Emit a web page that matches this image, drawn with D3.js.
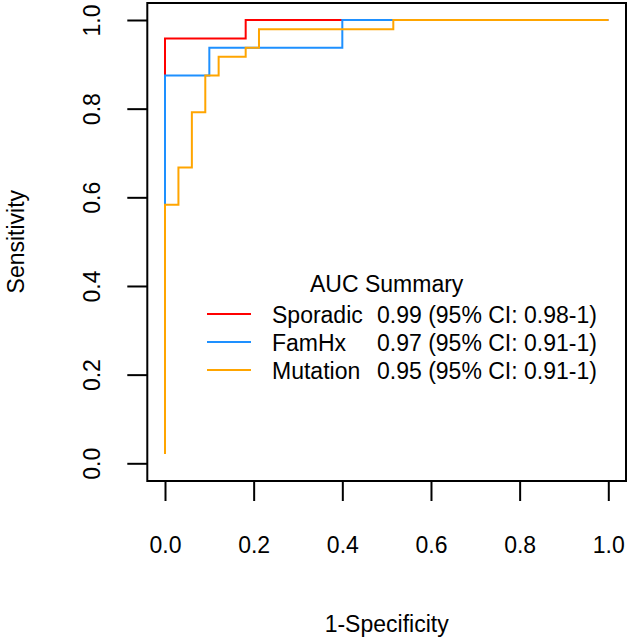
<!DOCTYPE html>
<html>
<head>
<meta charset="utf-8">
<script src="https://cdn.jsdelivr.net/npm/d3@7"></script>
<style>
  html, body { margin: 0; padding: 0; background: #fff; }
  svg { display: block; }
  text { font-family: "Liberation Sans", Arial, Helvetica, sans-serif; fill: #000; }
</style>
</head>
<body>
<svg id="chart" width="629" height="639"></svg>
<script>
// ---- Data ----
const seriesNames = ["Sporadic", "FamHx", "Mutation"];
const seriesColors = ["#FF0000", "#1E90FF", "#FFA500"];
const aucLabels = ["0.99 (95% CI: 0.98-1)", "0.97 (95% CI: 0.91-1)", "0.95 (95% CI: 0.91-1)"];

// step vertices (1-specificity, sensitivity), drawn with step-after
const sporadicFPR = [0, 0, 0.182, 1];
const sporadicTPR = [0.0417, 0.958, 1, 1];
const famhxFPR = [0, 0, 0.1, 0.4, 1];
const famhxTPR = [0.0625, 0.875, 0.9375, 1, 1];
const mutationFPR = [0, 0, 0.0303, 0.0606, 0.0909, 0.121, 0.182, 0.212, 0.515, 1];
const mutationTPR = [0.0208, 0.583, 0.667, 0.792, 0.875, 0.917, 0.9375, 0.979, 1, 1];

const tickValues = [0, 0.2, 0.4, 0.6, 0.8, 1.0];
const tickLabels = ["0.0", "0.2", "0.4", "0.6", "0.8", "1.0"];

const xTitle = "1-Specificity";
const yTitle = "Sensitivity";
const legendTitle = "AUC Summary";

// ---- Layout ----
const svg = d3.select("#chart");
const box = { left: 147.3, right: 626, top: 3, bottom: 481 };
const x = d3.scaleLinear().domain([0, 1]).range([165, 608.3]);
const y = d3.scaleLinear().domain([0, 1]).range([463.3, 20]);
const FS = 23;

// plot box
svg.append("rect")
  .attr("x", box.left).attr("y", box.top)
  .attr("width", box.right - box.left).attr("height", box.bottom - box.top)
  .attr("fill", "none").attr("stroke", "#000").attr("stroke-width", 2);

// x axis
const xAxis = svg.append("g")
  .attr("transform", `translate(0,${box.bottom})`)
  .call(d3.axisBottom(x).tickValues(tickValues).tickSize(20)
    .tickFormat((d, i) => tickLabels[i]));
xAxis.select(".domain").remove();
xAxis.selectAll(".tick line").attr("stroke", "#000").attr("stroke-width", 2);
xAxis.selectAll(".tick text")
  .attr("y", 553 - box.bottom).attr("dy", 0)
  .attr("font-size", FS).attr("font-family", "Liberation Sans, Arial, sans-serif")
  .attr("fill", "#000");

// y axis
const yAxis = svg.append("g")
  .attr("transform", `translate(${box.left},0)`)
  .call(d3.axisLeft(y).tickValues(tickValues).tickSize(20)
    .tickFormat((d, i) => tickLabels[i]));
yAxis.select(".domain").remove();
yAxis.selectAll(".tick line").attr("stroke", "#000").attr("stroke-width", 2);
yAxis.selectAll(".tick text")
  .attr("x", 0).attr("y", 0).attr("dy", 0)
  .attr("text-anchor", "middle")
  .attr("transform", `translate(${100 - box.left},0) rotate(-90)`)
  .attr("font-size", FS).attr("font-family", "Liberation Sans, Arial, sans-serif")
  .attr("fill", "#000");

// axis titles
svg.append("text")
  .attr("x", (x(0) + x(1)) / 2).attr("y", 632)
  .attr("text-anchor", "middle").attr("font-size", FS)
  .text(xTitle);
svg.append("text")
  .attr("transform", `translate(24,${(y(0) + y(1)) / 2}) rotate(-90)`)
  .attr("text-anchor", "middle").attr("font-size", FS)
  .text(yTitle);

// curves
const seriesData = [
  sporadicFPR.map((v, i) => [v, sporadicTPR[i]]),
  famhxFPR.map((v, i) => [v, famhxTPR[i]]),
  mutationFPR.map((v, i) => [v, mutationTPR[i]])
];
const line = d3.line().x(d => x(d[0])).y(d => y(d[1])).curve(d3.curveStepAfter);
seriesData.forEach((pts, i) => {
  svg.append("path")
    .attr("d", line(pts))
    .attr("fill", "none")
    .attr("stroke", seriesColors[i])
    .attr("stroke-width", 2);
});

// legend
svg.append("text")
  .attr("x", 310).attr("y", 292)
  .attr("font-size", FS)
  .text(legendTitle);
const legendY = [314, 342, 370];
seriesNames.forEach((name, i) => {
  svg.append("line")
    .attr("x1", 207).attr("x2", 251)
    .attr("y1", legendY[i]).attr("y2", legendY[i])
    .attr("stroke", seriesColors[i]).attr("stroke-width", 2);
  svg.append("text")
    .attr("x", 272).attr("y", legendY[i] + 8.5)
    .attr("font-size", FS)
    .text(name);
  svg.append("text")
    .attr("x", 377).attr("y", legendY[i] + 8.5)
    .attr("font-size", FS)
    .text(aucLabels[i]);
});
</script>
</body>
</html>
